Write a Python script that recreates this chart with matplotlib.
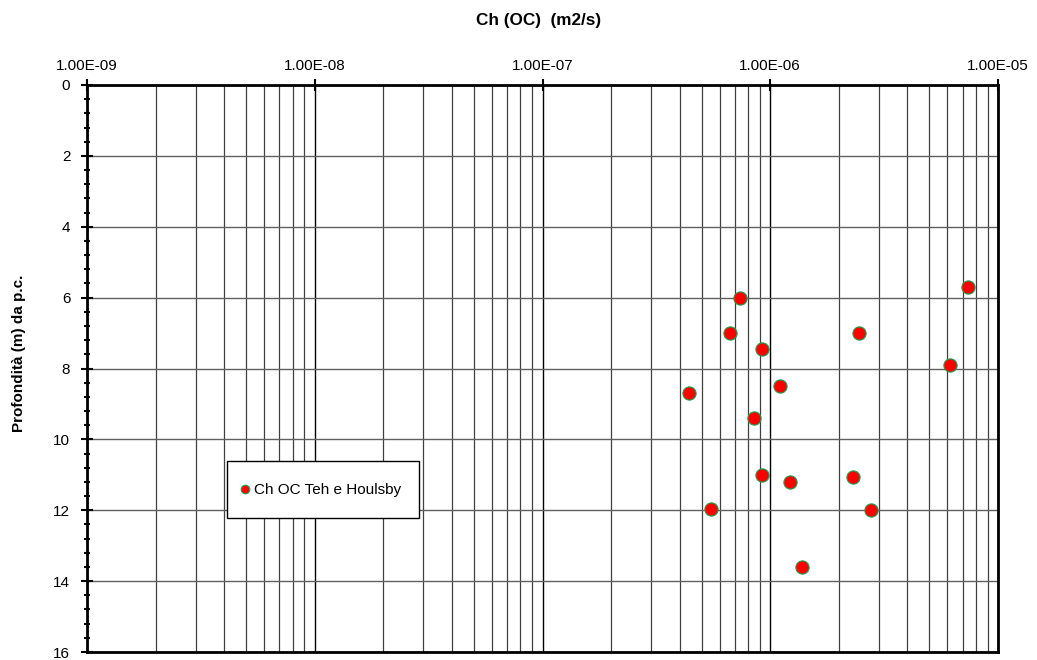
import matplotlib
matplotlib.use("Agg")
import matplotlib.pyplot as plt
from matplotlib.patches import Rectangle
from matplotlib.ticker import LogLocator, FixedLocator, MultipleLocator, NullFormatter

plt.rcParams['font.family'] = ['Liberation Sans', 'DejaVu Sans']

ch_values = [7.33e-7, 7.40e-6, 6.67e-7, 2.45e-6, 9.22e-7, 6.14e-6, 1.10e-6, 4.40e-7,
             8.50e-7, 9.22e-7, 1.22e-6, 2.30e-6, 5.50e-7, 2.76e-6, 1.38e-6]
depths = [6.0, 5.70, 7.0, 7.0, 7.45, 7.90, 8.50, 8.70,
          9.40, 11.0, 11.2, 11.05, 11.96, 12.0, 13.6]
series_label = "Ch OC Teh e Houlsby"
x_ticks = [1e-9, 1e-8, 1e-7, 1e-6, 1e-5]
x_tick_labels = ["1.00E-09", "1.00E-08", "1.00E-07", "1.00E-06", "1.00E-05"]

fig = plt.figure(figsize=(10.37, 6.6), dpi=100)
ax = fig.add_axes([87/1037, 1-652/660, (998-87)/1037, (652-85)/660])

ax.set_xscale('log')
ax.set_xlim(1e-9, 1e-5)
ax.set_ylim(16, 0)

ax.xaxis.set_major_locator(FixedLocator(x_ticks))
ax.set_xticklabels(x_tick_labels)
ax.xaxis.set_minor_locator(LogLocator(base=10, subs=range(2, 10)))
ax.xaxis.set_minor_formatter(NullFormatter())
ax.xaxis.tick_top()
ax.xaxis.set_label_position('top')

ax.yaxis.set_major_locator(MultipleLocator(2))
ax.yaxis.set_minor_locator(MultipleLocator(0.4))

ax.grid(True, which='major', axis='x', color='#000000', linewidth=1.0)
ax.grid(True, which='minor', axis='x', color='#404040', linewidth=0.9)
ax.grid(True, which='major', axis='y', color='#606060', linewidth=1.0)
ax.set_axisbelow(True)

for s in ax.spines.values():
    s.set_linewidth(2)
    s.set_color('black')

ax.tick_params(axis='x', which='major', direction='inout', length=8, width=1.5,
               labelsize=11, pad=5, top=True, bottom=False)
ax.tick_params(axis='x', which='minor', length=0, top=True, bottom=False)
ax.tick_params(axis='y', which='major', direction='inout', length=8, width=1.5,
               labelsize=11, pad=8, right=False)
ax.tick_params(axis='y', which='minor', direction='inout', length=5, width=1.5, right=False)

ax.plot(ch_values, depths, linestyle='none', marker='o', markersize=9.5,
        markerfacecolor='#ff0000', markeredgecolor='#1aa050', markeredgewidth=0.8,
        label=series_label, zorder=5)

# legend box
ax.add_patch(Rectangle(((227-87)/911, 1-(518-85)/567), 192/911, 57/567,
                       transform=ax.transAxes, facecolor='white', edgecolor='black',
                       linewidth=1.0, zorder=10))
leg = ax.legend(loc='center left', bbox_to_anchor=((239-87)/911, 1-(490-85)/567),
                fontsize=11, frameon=False, borderpad=0, borderaxespad=0,
                handlelength=0.8, handletextpad=0.15, markerscale=0.65)
leg.set_zorder(11)

fig.text(539/1037, 1-20/660, "Ch (OC)  (m2/s)", ha='center', va='center',
         fontsize=12.3, fontweight='bold')
fig.text(19/1037, 1-353/660, "Profondità (m) da p.c.", ha='center', va='center',
         rotation=90, fontsize=11, fontweight='bold')

fig.savefig("out.png", dpi=100)
